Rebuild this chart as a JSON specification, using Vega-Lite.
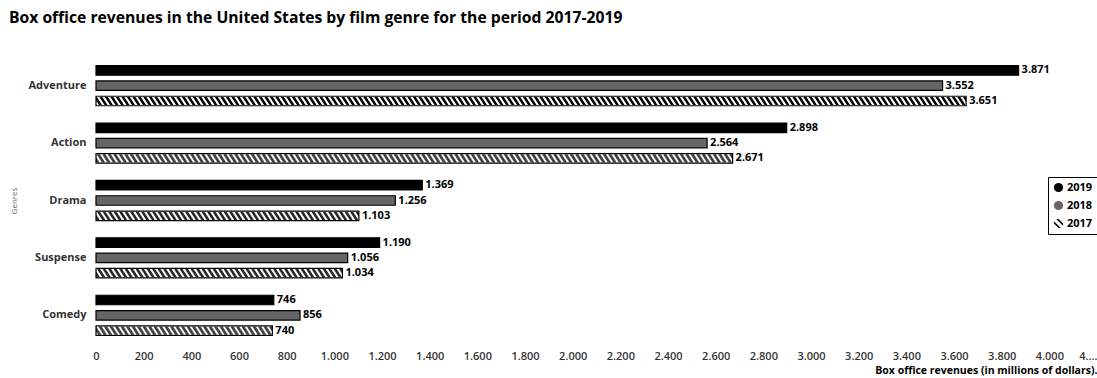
{
  "$schema": "https://vega.github.io/schema/vega-lite/v6.json",
  "autosize": {"type": "none"},
  "padding": {"left": 96, "top": 57, "right": 0, "bottom": 34},
  "width": 1001,
  "height": 287,
  "title": {
    "text": "Box office revenues in the United States by film genre for the period 2017-2019",
    "anchor": "start",
    "frame": "group",
    "dx": -87,
    "offset": 30,
    "fontSize": 15.7,
    "fontWeight": "bold",
    "color": "#000000"
  },
  "data": {
    "values": [
      {"genre": "Adventure", "year": "2019", "value": 3871},
      {"genre": "Adventure", "year": "2018", "value": 3552},
      {"genre": "Adventure", "year": "2017", "value": 3651},
      {"genre": "Action", "year": "2019", "value": 2898},
      {"genre": "Action", "year": "2018", "value": 2564},
      {"genre": "Action", "year": "2017", "value": 2671},
      {"genre": "Drama", "year": "2019", "value": 1369},
      {"genre": "Drama", "year": "2018", "value": 1256},
      {"genre": "Drama", "year": "2017", "value": 1103},
      {"genre": "Suspense", "year": "2019", "value": 1190},
      {"genre": "Suspense", "year": "2018", "value": 1056},
      {"genre": "Suspense", "year": "2017", "value": 1034},
      {"genre": "Comedy", "year": "2019", "value": 746},
      {"genre": "Comedy", "year": "2018", "value": 856},
      {"genre": "Comedy", "year": "2017", "value": 740}
    ]
  },
  "encoding": {
    "y": {
      "field": "genre",
      "type": "nominal",
      "sort": ["Adventure", "Action", "Drama", "Suspense", "Comedy"],
      "scale": {"paddingInner": 0, "paddingOuter": 0},
      "title": "Genres",
      "axis": {
        "ticks": false,
        "domain": false,
        "labelPadding": 10,
        "labelFontSize": 11,
        "labelFontWeight": "bold",
        "labelColor": "#333333",
        "titleFontSize": 8,
        "titleFontWeight": "normal",
        "titleColor": "#666666",
        "titlePadding": 9
      }
    }
  },
  "layer": [
    {
      "mark": {"type": "point", "filled": true, "opacity": 1, "size": 8, "xOffset": 4},
      "encoding": {
        "x": {"datum": 0, "type": "quantitative"},
        "fill": {
          "field": "year",
          "type": "nominal",
          "scale": {"domain": ["2019", "2018", "2017"], "range": ["#000000", "#666666", "#000000"]},
          "legend": {
            "title": null,
            "orient": "none",
            "legendX": 952,
            "legendY": 120,
            "padding": 5,
            "strokeColor": "#000000",
            "symbolSize": 85,
            "symbolOpacity": 1,
            "symbolStrokeWidth": 0,
            "labelFontSize": 11,
            "labelFontWeight": "bold",
            "labelColor": "#000000",
            "labelOffset": 3,
            "rowPadding": 6
          }
        },
        "shape": {
          "field": "year",
          "type": "nominal",
          "scale": {"domain": ["2019", "2018", "2017"], "range": ["circle", "circle", "M-0.5,-1L0,-1L1,0L1,0.5ZM-1,-0.5L0.5,1L0,1L-1,0Z"]}
        }
      }
    },
    {
      "transform": [{"filter": "datum.year === '2019'"}],
      "mark": {"type": "bar", "height": 9.5, "yOffset": -15.3, "fill": "#000000", "stroke": "#000000", "strokeWidth": 1.2},
      "encoding": {
        "x": {
          "field": "value",
          "type": "quantitative",
          "scale": {"domain": [0, 4200], "nice": false},
          "title": "Box office revenues (in millions of dollars).",
          "axis": {
            "values": [0, 200, 400, 600, 800, 1000, 1200, 1400, 1600, 1800, 2000, 2200, 2400, 2600, 2800, 3000, 3200, 3400, 3600, 3800, 4000, 4200],
            "format": ",d",
            "labelExpr": "datum.value >= 4200 ? '4.…' : datum.label",
            "labelAlign": {"condition": {"test": "datum.value >= 4200", "value": "right"}, "value": "center"},
            "gridColor": {"condition": {"test": "datum.value >= 4200", "value": "transparent"}, "value": "#ebebeb"},
            "ticks": false,
            "domain": false,
            "labelPadding": 6,
            "labelFontSize": 11,
            "labelFontWeight": 600,
            "labelColor": "#333333",
            "titleAnchor": "end",
            "titleFontSize": 10.5,
            "titleFontWeight": "bold",
            "titleColor": "#000000",
            "titlePadding": 4
          }
        }
      }
    },
    {
      "transform": [{"filter": "datum.year === '2018'"}],
      "mark": {"type": "bar", "height": 9.5, "yOffset": 0, "fill": "#666666", "stroke": "#000000", "strokeWidth": 1.2},
      "encoding": {"x": {"field": "value", "type": "quantitative"}}
    },
    {
      "transform": [{"filter": "datum.year === '2017'"}],
      "mark": {"type": "bar", "height": 9.5, "yOffset": 15.3, "fill": "#ffffff"},
      "encoding": {"x": {"field": "value", "type": "quantitative"}}
    },
    {
      "transform": [{"filter": "datum.year === '2017'"}],
      "mark": {"type": "rule", "yOffset": 11.8, "stroke": "#000000", "strokeWidth": 1, "strokeDash": [3, 2.5], "strokeDashOffset": 0},
      "encoding": {"x": {"field": "value", "type": "quantitative"}, "x2": {"datum": 0}}
    },
    {
      "transform": [{"filter": "datum.year === '2017'"}],
      "mark": {"type": "rule", "yOffset": 12.8, "stroke": "#000000", "strokeWidth": 1, "strokeDash": [3, 2.5], "strokeDashOffset": 0.65},
      "encoding": {"x": {"field": "value", "type": "quantitative"}, "x2": {"datum": 0}}
    },
    {
      "transform": [{"filter": "datum.year === '2017'"}],
      "mark": {"type": "rule", "yOffset": 13.8, "stroke": "#000000", "strokeWidth": 1, "strokeDash": [3, 2.5], "strokeDashOffset": 1.3},
      "encoding": {"x": {"field": "value", "type": "quantitative"}, "x2": {"datum": 0}}
    },
    {
      "transform": [{"filter": "datum.year === '2017'"}],
      "mark": {"type": "rule", "yOffset": 14.8, "stroke": "#000000", "strokeWidth": 1, "strokeDash": [3, 2.5], "strokeDashOffset": 1.95},
      "encoding": {"x": {"field": "value", "type": "quantitative"}, "x2": {"datum": 0}}
    },
    {
      "transform": [{"filter": "datum.year === '2017'"}],
      "mark": {"type": "rule", "yOffset": 15.8, "stroke": "#000000", "strokeWidth": 1, "strokeDash": [3, 2.5], "strokeDashOffset": 2.6},
      "encoding": {"x": {"field": "value", "type": "quantitative"}, "x2": {"datum": 0}}
    },
    {
      "transform": [{"filter": "datum.year === '2017'"}],
      "mark": {"type": "rule", "yOffset": 16.8, "stroke": "#000000", "strokeWidth": 1, "strokeDash": [3, 2.5], "strokeDashOffset": 3.25},
      "encoding": {"x": {"field": "value", "type": "quantitative"}, "x2": {"datum": 0}}
    },
    {
      "transform": [{"filter": "datum.year === '2017'"}],
      "mark": {"type": "rule", "yOffset": 17.8, "stroke": "#000000", "strokeWidth": 1, "strokeDash": [3, 2.5], "strokeDashOffset": 3.9},
      "encoding": {"x": {"field": "value", "type": "quantitative"}, "x2": {"datum": 0}}
    },
    {
      "transform": [{"filter": "datum.year === '2017'"}],
      "mark": {"type": "rule", "yOffset": 18.8, "stroke": "#000000", "strokeWidth": 1, "strokeDash": [3, 2.5], "strokeDashOffset": 4.55},
      "encoding": {"x": {"field": "value", "type": "quantitative"}, "x2": {"datum": 0}}
    },
    {
      "transform": [{"filter": "datum.year === '2017'"}],
      "mark": {"type": "bar", "height": 9.5, "yOffset": 15.3, "fill": "#ffffff", "fillOpacity": 0, "stroke": "#000000", "strokeWidth": 1.2},
      "encoding": {"x": {"field": "value", "type": "quantitative"}}
    },
    {
      "transform": [{"filter": "datum.year === '2019'"}],
      "mark": {"type": "text", "align": "left", "baseline": "middle", "dx": 3, "yOffset": -15.3, "fontSize": 11, "fontWeight": "bold", "color": "#000000"},
      "encoding": {"x": {"field": "value", "type": "quantitative"}, "text": {"field": "value", "type": "quantitative", "format": ",d"}}
    },
    {
      "transform": [{"filter": "datum.year === '2018'"}],
      "mark": {"type": "text", "align": "left", "baseline": "middle", "dx": 3, "yOffset": 0, "fontSize": 11, "fontWeight": "bold", "color": "#000000"},
      "encoding": {"x": {"field": "value", "type": "quantitative"}, "text": {"field": "value", "type": "quantitative", "format": ",d"}}
    },
    {
      "transform": [{"filter": "datum.year === '2017'"}],
      "mark": {"type": "text", "align": "left", "baseline": "middle", "dx": 3, "yOffset": 15.3, "fontSize": 11, "fontWeight": "bold", "color": "#000000"},
      "encoding": {"x": {"field": "value", "type": "quantitative"}, "text": {"field": "value", "type": "quantitative", "format": ",d"}}
    }
  ],
  "config": {
    "font": "Open Sans",
    "view": {"stroke": null},
    "locale": {
      "number": {"decimal": ",", "thousands": ".", "grouping": [3], "currency": ["", " €"]}
    }
  }
}
